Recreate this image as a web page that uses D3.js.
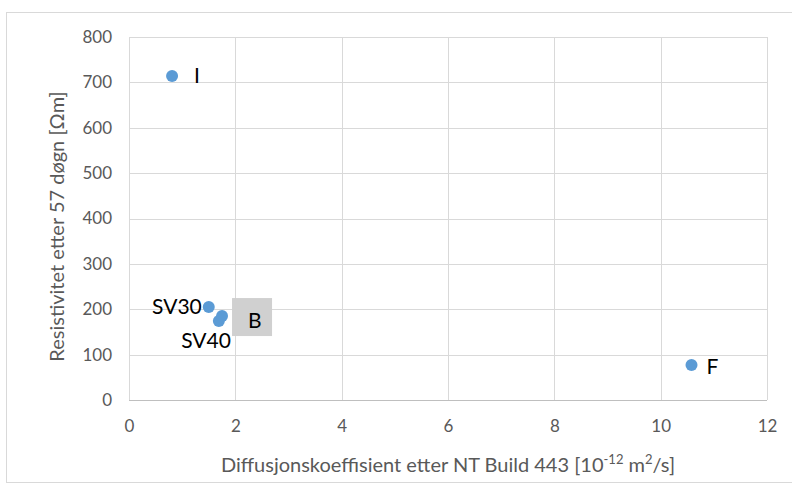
<!DOCTYPE html>
<html>
<head>
<meta charset="utf-8">
<script src="https://cdn.jsdelivr.net/npm/d3@7"></script>
<style>
  body { margin: 0; background: #fff; }
  text { font-family: Lato, "Open Sans", sans-serif; }
</style>
</head>
<body>
<div id="chart"></div>
<script>
var svgWidth = 792;
var svgHeight = 493;

// data
var names = ["I", "SV30", "SV40", "B", "F"];
var diffusion = [0.81, 1.50, 1.69, 1.75, 10.58];
var resistivity = [714, 205, 174, 185, 77];
var xTicks = [0, 2, 4, 6, 8, 10, 12];
var yTicks = [0, 100, 200, 300, 400, 500, 600, 700, 800];

var margin = { top: 37, right: 25, bottom: 93, left: 129 };
var width = svgWidth - margin.left - margin.right;
var height = svgHeight - margin.top - margin.bottom;

var svg = d3.select("#chart")
  .append("svg")
  .attr("width", svgWidth)
  .attr("height", svgHeight);

// chart frame
svg.append("rect")
  .attr("x", 6.5).attr("y", 12.5)
  .attr("width", 800).attr("height", 470)
  .attr("fill", "none")
  .attr("stroke", "#d9d9d9");

var chartGroup = svg.append("g")
  .attr("transform", `translate(${margin.left}, ${margin.top})`);

var xScale = d3.scaleLinear().domain([0, 12]).range([0, width]);
var yScale = d3.scaleLinear().domain([0, 800]).range([height, 0]);

// gridlines
chartGroup.append("g")
  .selectAll("line.h")
  .data(yTicks)
  .enter()
  .append("line")
  .attr("x1", 0).attr("x2", width)
  .attr("y1", d => Math.round(yScale(d)) + 0.5)
  .attr("y2", d => Math.round(yScale(d)) + 0.5)
  .attr("stroke", d => d === 0 ? "#bfbfbf" : "#d9d9d9");

chartGroup.append("g")
  .selectAll("line.v")
  .data(xTicks)
  .enter()
  .append("line")
  .attr("y1", 0).attr("y2", height)
  .attr("x1", d => Math.round(xScale(d)) + 0.5)
  .attr("x2", d => Math.round(xScale(d)) + 0.5)
  .attr("stroke", "#d9d9d9");

// axes (labels only)
var bottomAxis = d3.axisBottom(xScale).tickValues(xTicks).tickSize(0).tickPadding(20);
var leftAxis = d3.axisLeft(yScale).tickValues(yTicks).tickSize(0).tickPadding(17);

var xAxis = chartGroup.append("g")
  .attr("transform", `translate(0, ${height})`)
  .call(bottomAxis);
var yAxis = chartGroup.append("g").call(leftAxis);
[xAxis, yAxis].forEach(function(ax) {
  ax.select(".domain").remove();
  ax.selectAll("text")
    .attr("fill", "#595959")
    .style("font-size", "17px")
    .style("font-family", "Lato, 'Open Sans', sans-serif");
});

// points
var pts = names.map((n, i) => ({ name: n, x: diffusion[i], y: resistivity[i] }));

chartGroup.selectAll("circle")
  .data(pts)
  .enter()
  .append("circle")
  .attr("cx", d => xScale(d.x))
  .attr("cy", d => yScale(d.y))
  .attr("r", 6)
  .attr("fill", "#5b9bd5");

// point labels
var labelPos = {
  "I": { dx: 22, dy: 0, anchor: "start" },
  "SV30": { dx: -7, dy: 0, anchor: "end" },
  "SV40": { dx: 12, dy: 20, anchor: "end" },
  "B": { dx: 26, dy: 5, anchor: "start" },
  "F": { dx: 15, dy: 2, anchor: "start" }
};

// grey box behind B
var bPt = pts.find(d => d.name === "B");
chartGroup.append("rect")
  .attr("x", xScale(bPt.x) + 10)
  .attr("y", yScale(bPt.y) - 18)
  .attr("width", 40)
  .attr("height", 38)
  .attr("fill", "#d0d0d0");

chartGroup.selectAll("text.lbl")
  .data(pts)
  .enter()
  .append("text")
  .attr("class", "lbl")
  .attr("x", d => xScale(d.x) + labelPos[d.name].dx)
  .attr("y", d => yScale(d.y) + labelPos[d.name].dy)
  .attr("dy", "0.35em")
  .attr("text-anchor", d => labelPos[d.name].anchor)
  .attr("fill", "#000")
  .style("font-size", "21px")
  .text(d => d.name);

// axis titles
var xTitle = svg.append("text")
  .attr("x", margin.left + width / 2)
  .attr("y", 472)
  .attr("text-anchor", "middle")
  .attr("fill", "#595959")
  .style("font-size", "20px");
xTitle.append("tspan").text("Diffusjonskoeffisient etter NT Build 443 [10");
xTitle.append("tspan").attr("baseline-shift", "super").style("font-size", "13px").text("-12");
xTitle.append("tspan").text(" m");
xTitle.append("tspan").attr("baseline-shift", "super").style("font-size", "13px").text("2");
xTitle.append("tspan").text("/s]");

svg.append("text")
  .attr("transform", `translate(64, ${margin.top + height / 2 + 8}) rotate(-90)`)
  .attr("text-anchor", "middle")
  .attr("fill", "#595959")
  .style("font-size", "20px")
  .text("Resistivitet etter 57 døgn [Ωm]");
</script>
</body>
</html>
